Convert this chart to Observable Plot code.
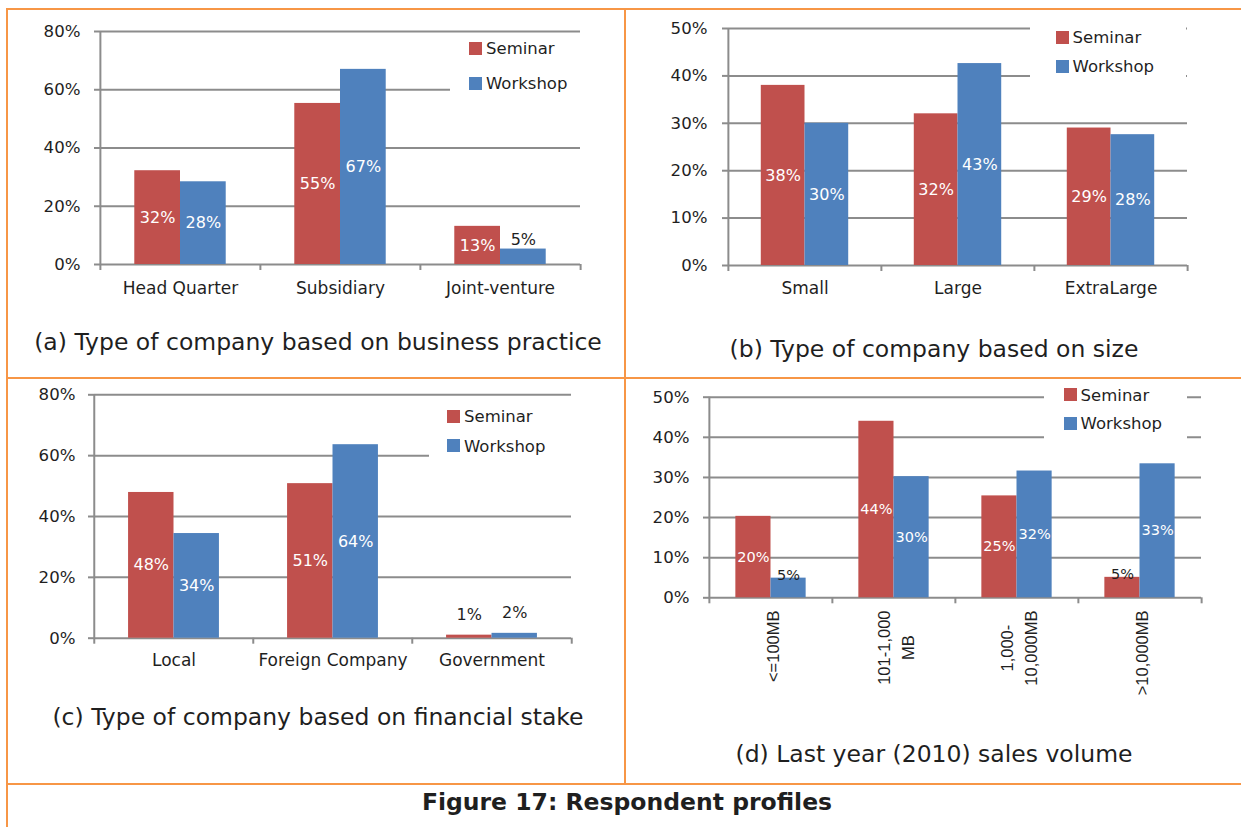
<!DOCTYPE html>
<html><head><meta charset="utf-8">
<script src="https://cdn.jsdelivr.net/npm/d3@7"></script>
<script src="https://cdn.jsdelivr.net/npm/@observablehq/plot@0.6"></script>
<style>
body{margin:0;background:#fff;}
#root{position:relative;width:1241px;height:827px;overflow:hidden;background:#fff;font-family:'DejaVu Sans',Verdana,sans-serif;color:#1f1f1f;}
.b{position:absolute;background:#F79646;}
.cap{position:absolute;text-align:center;font-size:23.5px;line-height:30px;white-space:nowrap;}
.leg{position:absolute;background:#fff;z-index:2;}
.sq{position:absolute;width:13px;height:13px;z-index:3;}
.lt{position:absolute;font-size:16.5px;line-height:20px;white-space:nowrap;z-index:3;}
#root svg{position:absolute;}
</style></head><body><div id="root"></div>
<script>
// ---------- data ----------
const seriesNames = ["Seminar", "Workshop"];
const seriesColors = ["#C0504D", "#4F81BD"];

const practiceCategories = ["Head Quarter", "Subsidiary", "Joint-venture"];
const practiceSeminar = [0.322, 0.553, 0.131];
const practiceWorkshop = [0.284, 0.67, 0.053];
const practiceTicks = [0, 0.2, 0.4, 0.6, 0.8];

const sizeCategories = ["Small", "Large", "ExtraLarge"];
const sizeSeminar = [0.38, 0.32, 0.29];
const sizeWorkshop = [0.30, 0.426, 0.276];
const sizeTicks = [0, 0.1, 0.2, 0.3, 0.4, 0.5];

const stakeCategories = ["Local", "Foreign Company", "Government"];
const stakeSeminar = [0.479, 0.508, 0.01];
const stakeWorkshop = [0.344, 0.636, 0.016];
const stakeTicks = [0, 0.2, 0.4, 0.6, 0.8];

const salesCategories = ["<=100MB", "101-1,000\nMB", "1,000-\n10,000MB", ">10,000MB"];
const salesSeminar = [0.203, 0.44, 0.254, 0.051];
const salesWorkshop = [0.049, 0.302, 0.316, 0.334];
const salesTicks = [0, 0.1, 0.2, 0.3, 0.4, 0.5];

const captionA = "(a) Type of company based on business practice";
const captionB = "(b) Type of company based on size";
const captionC = "(c) Type of company based on financial stake";
const captionD = "(d) Last year (2010) sales volume";
const figureCaption = "Figure 17: Respondent profiles";

// ---------- style ----------
const FONT = "'DejaVu Sans', Verdana, sans-serif";
const ARIAL = "'Liberation Sans', Arial, sans-serif";
const TEXT = "#1f1f1f";
const GRID = "#8c8c8c";
const root = document.getElementById("root");

function el(cls, css, text) {
  const d = document.createElement("div");
  d.className = cls;
  Object.assign(d.style, css);
  if (text != null) d.textContent = text;
  root.appendChild(d);
  return d;
}

function panel(cfg) {
  const {cats, sem, wor, ticks, left, top, width, height, ml, mr, mt, mb, tickPad, labelSize, smallDy, catMark} = cfg;
  const rows = cats.flatMap((c, i) => [
    {cat: c, series: seriesNames[0], value: sem[i]},
    {cat: c, series: seriesNames[1], value: wor[i]}
  ]);
  const yMax = ticks[ticks.length - 1];
  const facetW = (width - ml - mr) / cats.length;
  const edge = 1.25 * facetW / 3.5;
  const pct = v => Math.round(v * 100) + "%";
  const small = d => d.value < 0.08;
  const svg = Plot.plot({
    width, height, marginLeft: ml, marginRight: mr, marginTop: mt, marginBottom: mb,
    style: {fontFamily: FONT, fontSize: "16px", color: TEXT, background: "transparent", overflow: "visible"},
    fx: {domain: cats, padding: 0, axis: null, label: null},
    x: {domain: seriesNames, paddingInner: 0, paddingOuter: 0.75, round: false, axis: null},
    y: {domain: [0, yMax], label: null},
    color: {domain: seriesNames, range: seriesColors},
    marks: [
      Plot.ruleY(ticks, {stroke: GRID, strokeWidth: 2}),
      Plot.barY(rows, {fx: "cat", x: "series", y: "value", fill: "series"}),
      Plot.axisY({ticks, tickFormat: d3.format(".0%"), tickSize: 6, tickPadding: tickPad, stroke: GRID, strokeWidth: 2, fill: TEXT, fontSize: 16.6, label: null}),
      Plot.ruleX(cats.map((c, i) => ({cat: c, top: i === 0 ? yMax : 0})),
        {fx: "cat", x: () => seriesNames[0], y1: "top", y2: () => 0, dx: -edge, insetBottom: -6, stroke: GRID, strokeWidth: 2}),
      Plot.ruleX(cats.slice(-1),
        {fx: d => d, x: () => seriesNames[1], y1: () => 0, y2: () => 0, dx: edge, insetBottom: -6, stroke: GRID, strokeWidth: 2}),
      Plot.text(rows.filter(d => !small(d)), {fx: "cat", x: "series", y: d => d.value / 2, text: d => pct(d.value), fill: "white", fontSize: labelSize}),
      Plot.text(rows.filter(small), {fx: "cat", x: "series", y: "value", text: d => pct(d.value), fill: TEXT, fontSize: labelSize, dy: smallDy}),
      catMark(cats)
    ]
  });
  svg.style.left = left + "px";
  svg.style.top = top + "px";
  root.appendChild(svg);
}

const flatLabels = dy => cats => Plot.text(cats, {fx: d => d, text: d => d, frameAnchor: "bottom", dy, fill: TEXT, fontSize: 17});

// rotated labels: each line centred, longest line ends just below the axis
const measureCtx = document.createElement("canvas").getContext("2d");
measureCtx.font = "16.5px 'Liberation Sans'";
const longest = s => Math.max(...s.split("\n").map(l => measureCtx.measureText(l).width));
const rotatedLabels = cats => cats.map(c => Plot.text([c], {fx: d => d, text: d => d, frameAnchor: "bottom",
  dy: 12.7 + longest(c) / 2, rotate: -90, textAnchor: "middle", lineAnchor: "middle", lineHeight: 1.45,
  fontFamily: ARIAL, fontSize: 16.5, fill: TEXT}));

panel({cats: practiceCategories, sem: practiceSeminar, wor: practiceWorkshop, ticks: practiceTicks,
  left: 0, top: 0, width: 624, height: 377, ml: 99, mr: 44, mt: 31, mb: 113, tickPad: 14, labelSize: 16, smallDy: -9.5,
  catMark: flatLabels(29)});
panel({cats: sizeCategories, sem: sizeSeminar, wor: sizeWorkshop, ticks: sizeTicks,
  left: 624, top: 0, width: 617, height: 377, ml: 103, mr: 54, mt: 28, mb: 112, tickPad: 15, labelSize: 16, smallDy: -9,
  catMark: flatLabels(28)});
panel({cats: stakeCategories, sem: stakeSeminar, wor: stakeWorkshop, ticks: stakeTicks,
  left: 0, top: 377, width: 624, height: 407, ml: 93, mr: 52, mt: 17.3, mb: 146.3, tickPad: 13, labelSize: 16, smallDy: -20,
  catMark: flatLabels(28)});
panel({cats: salesCategories, sem: salesSeminar, wor: salesWorkshop, ticks: salesTicks,
  left: 624, top: 377, width: 617, height: 407, ml: 84, mr: 39.6, mt: 19.7, mb: 186.7, tickPad: 14, labelSize: 14.5, smallDy: -3,
  catMark: rotatedLabels});

// ---------- legends ----------
function legend(box, sqX, sqY, gap) {
  el("leg", {left: box[0] + "px", top: box[1] + "px", width: box[2] + "px", height: box[3] + "px"});
  seriesNames.forEach((name, i) => {
    el("sq", {left: sqX + "px", top: (sqY + i * gap) + "px", background: seriesColors[i]});
    el("lt", {left: (sqX + 17) + "px", top: (sqY + i * gap - 2.7) + "px"}, name);
  });
}
legend([450, 33, 130, 64], 469, 42, 35);
legend([1030, 26, 156, 53], 1055.6, 30.7, 29.3);
legend([429, 398, 143, 64], 447, 410, 29.3);
legend([1044, 380, 143, 62], 1063.6, 388.3, 28.4);

// ---------- captions ----------
el("cap", {left: "8px", width: "620px", top: "326.5px"}, captionA);
el("cap", {left: "626px", width: "616px", top: "333.5px"}, captionB);
el("cap", {left: "8px", width: "620px", top: "701.5px"}, captionC);
el("cap", {left: "626px", width: "616px", top: "738.5px"}, captionD);
el("cap", {left: "8px", width: "1238px", top: "786.5px", fontWeight: "bold"}, figureCaption);

// ---------- orange frame ----------
el("b", {left: "6px", top: "8px", width: "1235px", height: "2px"});
el("b", {left: "6px", top: "8px", width: "2px", height: "819px"});
el("b", {left: "624px", top: "8px", width: "2px", height: "776px"});
el("b", {left: "6px", top: "377px", width: "1235px", height: "2px"});
el("b", {left: "6px", top: "783px", width: "1235px", height: "2px"});
</script></body></html>
